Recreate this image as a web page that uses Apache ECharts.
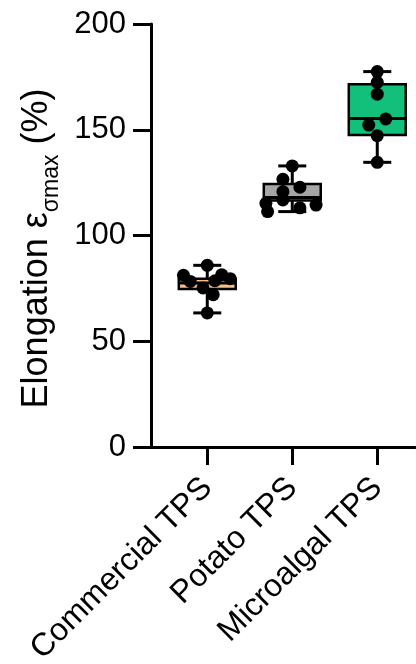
<!DOCTYPE html>
<html>
<head>
<meta charset="utf-8">
<script src="https://cdn.jsdelivr.net/npm/echarts@6/dist/echarts.min.js"></script>
<style>html,body{margin:0;padding:0;background:#fff}#c{width:416px;height:664px}</style>
</head>
<body>
<div id="c"></div>
<script>
var categories = ['Commercial TPS', 'Potato TPS', 'Microalgal TPS'];
var boxMin = [63.4, 111.3, 134.6];
var boxQ1 = [74.7, 116.5, 147.5];
var boxMedian = [77.5, 118.0, 155.3];
var boxQ3 = [79.6, 124.3, 171.5];
var boxMax = [85.9, 132.9, 177.5];
var boxColors = ['#F6BD84', '#A6A6A6', '#12C07B'];

var commercialValues = [81.2, 78.3, 85.9, 81.5, 79.6, 78.6, 75.2, 72.0, 63.4];
var commercialJitter = [-0.28, -0.20, 0, 0.17, 0.27, 0.09, -0.05, 0.07, 0];
var potatoValues = [132.9, 126.6, 122.8, 120.7, 116.8, 115.2, 113.1, 114.4, 111.3];
var potatoJitter = [0, -0.11, 0.09, -0.11, -0.11, -0.31, 0.09, 0.28, -0.29];
var microalgalValues = [177.5, 172.4, 166.8, 155.1, 152.2, 147.2, 134.6];
var microalgalJitter = [0, 0, 0, 0.10, -0.10, 0, 0];

var yTicks = [0, 50, 100, 150, 200];

var boxData = categories.map(function (c, i) {
  return [i + 1, boxMin[i], boxQ1[i], boxMedian[i], boxQ3[i], boxMax[i]];
});
var groups = [[commercialValues, commercialJitter], [potatoValues, potatoJitter], [microalgalValues, microalgalJitter]];
var points = [];
groups.forEach(function (g, i) {
  g[0].forEach(function (v, j) { points.push([i + 1 + g[1][j], v]); });
});

var FF = 'Liberation Sans, Arial, sans-serif';
var chart = echarts.init(document.getElementById('c'), null, {renderer: 'canvas'});
chart.setOption({
  animation: false,
  backgroundColor: '#fff',
  grid: {left: 151, right: 1, top: 24, bottom: 217, containLabel: false, outerBoundsMode: 'none'},
  xAxis: {
    type: 'value', min: 0.338, max: 3.444,
    splitLine: {show: false},
    axisLine: {show: true, lineStyle: {color: '#000', width: 3}},
    axisTick: {show: true, customValues: [1, 2, 3], length: 18, inside: false, lineStyle: {color: '#000', width: 3}},
    axisLabel: {
      customValues: [1, 2, 3], rotate: 45, margin: 36,
      fontFamily: FF, fontSize: 32, color: '#000',
      formatter: function (v) { return categories[Math.round(v) - 1]; }
    }
  },
  yAxis: {
    type: 'value', min: 0, max: 200, interval: 50,
    splitLine: {show: false},
    axisLine: {show: true, lineStyle: {color: '#000', width: 3}},
    axisTick: {show: true, length: 18, lineStyle: {color: '#000', width: 3}},
    axisLabel: {fontFamily: FF, fontSize: 31, color: '#000', margin: 25},
    name: '{m|Elongation ε}{s|σmax}{m| (%)}',
    nameLocation: 'middle', nameRotate: 90, nameGap: 87,
    nameTextStyle: {
      fontFamily: FF, color: '#000', padding: [0, 26, 0, 0],
      rich: {
        m: {fontSize: 36, fontFamily: FF, color: '#000', verticalAlign: 'bottom', padding: [0, 0, 8, 0]},
        s: {fontSize: 23, fontFamily: FF, color: '#000', verticalAlign: 'bottom'}
      }
    }
  },
  series: [
    {
      type: 'custom',
      data: boxData,
      encode: {x: 0, y: [1, 2, 3, 4, 5]},
      z: 2,
      renderItem: function (params, api) {
        var x = api.value(0);
        var band = api.size([1, 0])[0];
        var bw = band * 0.67, cw = band * 0.33;
        var pMin = api.coord([x, api.value(1)]);
        var pQ1 = api.coord([x, api.value(2)]);
        var pMed = api.coord([x, api.value(3)]);
        var pQ3 = api.coord([x, api.value(4)]);
        var pMax = api.coord([x, api.value(5)]);
        var cx = pMin[0];
        var ls = {stroke: '#000', lineWidth: 3};
        return {
          type: 'group',
          children: [
            {type: 'line', shape: {x1: cx, y1: pMax[1], x2: cx, y2: pQ3[1]}, style: ls},
            {type: 'line', shape: {x1: cx, y1: pQ1[1], x2: cx, y2: pMin[1]}, style: ls},
            {type: 'line', shape: {x1: cx - cw / 2, y1: pMax[1], x2: cx + cw / 2, y2: pMax[1]}, style: ls},
            {type: 'line', shape: {x1: cx - cw / 2, y1: pMin[1], x2: cx + cw / 2, y2: pMin[1]}, style: ls},
            {type: 'rect', shape: {x: cx - bw / 2, y: pQ3[1], width: bw, height: pQ1[1] - pQ3[1]},
              style: {fill: boxColors[params.dataIndex], stroke: '#000', lineWidth: 2.5}},
            {type: 'line', shape: {x1: cx - bw / 2, y1: pMed[1], x2: cx + bw / 2, y2: pMed[1]}, style: ls}
          ]
        };
      }
    },
    {
      type: 'scatter',
      data: points,
      symbol: 'circle',
      symbolSize: 13,
      z: 3,
      itemStyle: {color: '#000', opacity: 1}
    }
  ]
});
</script>
</body>
</html>
